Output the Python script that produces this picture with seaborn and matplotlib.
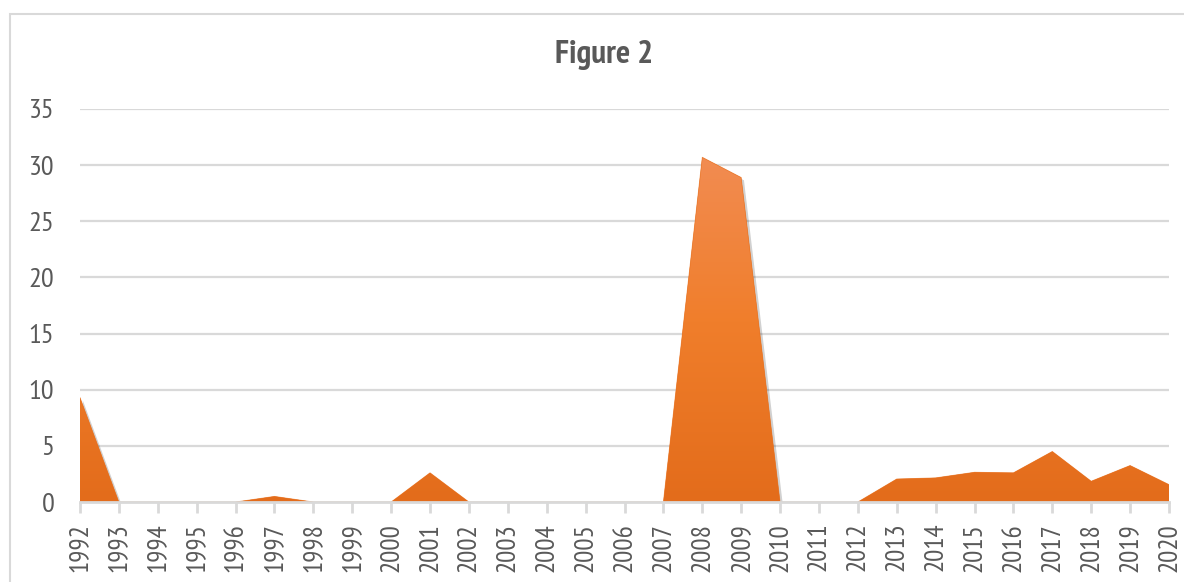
import numpy as np
import pandas as pd
import matplotlib
matplotlib.use("Agg")
import matplotlib.pyplot as plt
import matplotlib.patches as mpatches
import matplotlib.patheffects as pe
from matplotlib import font_manager
from matplotlib.colors import LinearSegmentedColormap
import seaborn as sns

# Annual values, 1992-2020
years = list(range(1992, 2021))
values = [9.3, 0, 0, 0, 0, 0.5, 0, 0, 0, 2.6, 0, 0, 0, 0, 0, 0,
          30.7, 28.9, 0, 0, 0, 2.05, 2.15, 2.65, 2.6, 4.5, 1.85, 3.25, 1.55]
y_ticks = [0, 5, 10, 15, 20, 25, 30, 35]
title = "Figure 2"

df = pd.DataFrame({"year": years, "value": values})
df["pos"] = np.arange(len(df))

sns.set_theme(style="white")

# prefer a condensed face with regular and bold weights
weights = {}
for f in font_manager.fontManager.ttflist:
    if f.style == "normal":
        weights.setdefault(f.name, set()).add(f.weight)


def score(name):
    w = weights[name]
    s = 0
    if any(400 <= x <= 500 for x in w if isinstance(x, int)) or "normal" in w or "regular" in w:
        s += 2
    if any(x >= 700 for x in w if isinstance(x, int)) or "bold" in w:
        s += 2
    if "Narrow" in name:
        s += 1
    if "Light" in name or "Thin" in name:
        s -= 3
    return s


narrow = [n for n in weights if "Narrow" in n or "Condensed" in n]
narrow.sort(key=score, reverse=True)
if narrow:
    plt.rcParams["font.family"] = [narrow[0], "DejaVu Sans"]
    xtick_size, ytick_size, title_size = 19.5, 20.5, 24
else:
    plt.rcParams["font.family"] = ["Liberation Sans", "DejaVu Sans"]
    xtick_size, ytick_size, title_size = 17, 17, 20

text_gray = "#595959"
grid_gray = "#D9D9D9"

fig = plt.figure(figsize=(11.84, 5.82), dpi=100)
ax = fig.add_axes([80 / 1184, 1 - 502 / 582, (1169 - 80) / 1184, (502 - 109) / 582])

# outer chart frame
frame = mpatches.Rectangle((10 / 1184, -0.05), 1.2, 1 - 14 / 582 + 0.05,
                           transform=fig.transFigure, fill=False,
                           edgecolor=grid_gray, linewidth=1.5, zorder=0)
fig.patches.append(frame)

ax.set_xlim(0, len(df) - 1)
ax.set_ylim(0, 35)

# horizontal gridlines
for t in y_ticks[1:]:
    ax.axhline(t, color=grid_gray, linewidth=1.6, zorder=0)

# area under the series
poly = ax.fill_between(df["pos"], df["value"], 0, color="#E8701D",
                       linewidth=0, zorder=2)
poly.set_path_effects([pe.SimplePatchShadow(offset=(2, -2), shadow_rgbFace="#000000",
                                            alpha=0.18), pe.Normal()])

# vertical gradient clipped to the area
cmap = LinearSegmentedColormap.from_list(
    "area", ["#E36C1B", "#F07E2B", "#F28D55"])
grad = np.linspace(0, 1, 256).reshape(-1, 1)
img = ax.imshow(grad, cmap=cmap, origin="lower", aspect="auto",
                extent=(0, len(df) - 1, 0, 32), zorder=3,
                interpolation="bicubic")
img.set_clip_path(poly.get_paths()[0], transform=ax.transData)

sns.lineplot(data=df, x="pos", y="value", ax=ax, color="#E8701D",
             linewidth=0.6, zorder=4, alpha=0.6)

ax.set_xlim(0, len(df) - 1)
ax.set_ylim(0, 35)

for side in ["top", "right", "left"]:
    ax.spines[side].set_visible(False)
ax.spines["bottom"].set_color(grid_gray)
ax.spines["bottom"].set_linewidth(2)
ax.spines["bottom"].set_zorder(5)

ax.set_xticks(df["pos"])
ax.set_xticklabels([str(y) for y in years], rotation=90, fontsize=xtick_size,
                   color=text_gray)
ax.set_yticks(y_ticks)
ax.set_yticklabels([str(t) for t in y_ticks], fontsize=ytick_size, color=text_gray)
ax.tick_params(axis="x", length=8, width=2, color=grid_gray, pad=7, bottom=True)
ax.tick_params(axis="y", length=0, pad=18.5)
ax.set_xlabel("")
ax.set_ylabel("")

fig.text(604 / 1184, 1 - 63 / 582, title, ha="center", va="baseline",
         fontsize=title_size, fontweight="bold", color=text_gray)

fig.savefig("out.png", dpi=100, facecolor="white")
